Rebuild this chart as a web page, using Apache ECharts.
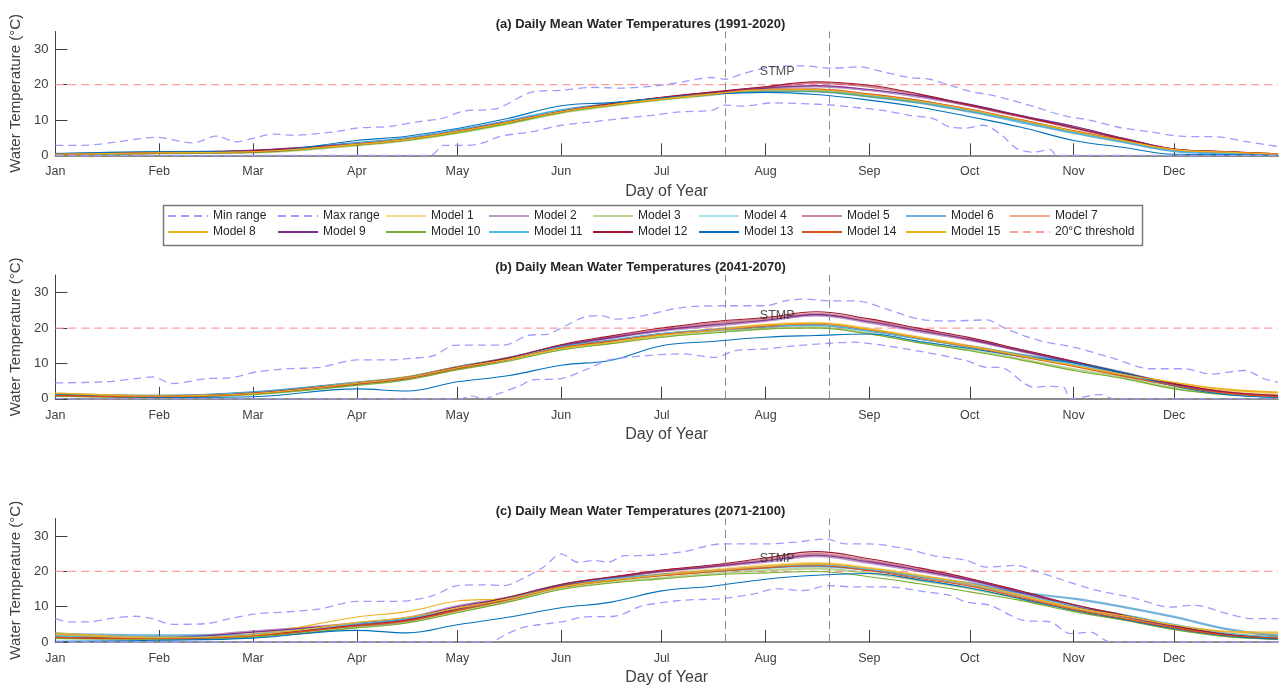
<!DOCTYPE html>
<html>
<head>
<meta charset="utf-8">
<title>Daily Mean Water Temperatures</title>
<script src="https://cdn.jsdelivr.net/npm/echarts@6/dist/echarts.min.js"></script>
<style>
  html, body { margin: 0; padding: 0; background: #fff; }
  #chart { width: 1281px; height: 687px; }
</style>
</head>
<body>
<div id="chart"></div>
<script>
// month ticks (day of year)
const monthStarts = [1, 32, 60, 91, 121, 152, 182, 213, 244, 274, 305, 335];
const monthNames = ['Jan', 'Feb', 'Mar', 'Apr', 'May', 'Jun', 'Jul', 'Aug', 'Sep', 'Oct', 'Nov', 'Dec'];
const tempTicks = [0, 10, 20, 30];
const threshold = 20;
const stmpStart = 201, stmpEnd = 232;   // STMP window
const stmpLabel = [216.5, 23.6];

const panelTitles = [
  '(a) Daily Mean Water Temperatures (1991-2020)',
  '(b) Daily Mean Water Temperatures (2041-2070)',
  '(c) Daily Mean Water Temperatures (2071-2100)'
];

// days where the model curves were read
const modelDays = [1, 32, 60, 91, 106, 121, 136, 152, 167, 182, 197, 213, 228, 244, 259, 274, 289, 305, 320, 335, 350, 366];

// ---- (a) 1991-2020 ----
const maxDaysA = [1, 9, 21, 31, 42, 49, 55, 60, 66, 72, 84, 91, 101, 110, 116, 123, 133, 143, 152, 161, 170, 179, 188, 197, 201, 206, 215, 224, 233, 241, 248, 256, 262, 268, 274, 280, 286, 293, 302, 310, 318, 328, 337, 348, 357, 366];
const maxA = [2.8, 2.8, 4.0, 5.1, 3.5, 5.4, 3.8, 4.8, 6.0, 5.7, 6.6, 7.7, 8.2, 9.6, 10.3, 12.5, 13.3, 17.8, 18.4, 19.2, 19.0, 19.5, 20.7, 22.0, 21.5, 23.0, 25.0, 25.3, 24.6, 25.0, 23.6, 22.0, 21.5, 19.8, 18.1, 17.1, 15.7, 13.8, 11.2, 9.9, 8.0, 6.6, 5.4, 5.2, 3.8, 2.5];
const minDaysA = [1, 113, 117, 123, 128, 134, 143, 152, 161, 170, 179, 188, 197, 201, 206, 215, 224, 233, 238, 248, 256, 263, 268, 273, 278, 283, 288, 293, 298, 300, 366];
const minA = [0, 0, 2.8, 2.8, 3.3, 5.4, 6.6, 8.5, 9.4, 10.4, 11.3, 12.3, 12.7, 14.2, 13.9, 14.8, 14.6, 14.2, 13.7, 12.7, 11.3, 10.4, 8.0, 7.7, 8.5, 6.1, 1.9, 0.9, 1.6, 0, 0];
const modelsA = [
  [0.2, 0.6, 0.9, 3.0, 4.4, 6.5, 9.1, 12.2, 14.2, 15.9, 17.3, 18.4, 18.3, 16.9, 15.0, 12.6, 9.7, 6.5, 3.9, 1.5, 0.9, 0.3],
  [0.3, 0.8, 1.3, 3.3, 4.6, 6.8, 9.4, 12.4, 14.4, 16.2, 17.6, 18.9, 19.5, 18.4, 16.5, 14.1, 11.1, 8.0, 4.6, 1.6, 0.9, 0.3],
  [0.2, 0.6, 0.8, 2.8, 4.2, 6.3, 8.9, 12.0, 14.0, 15.7, 17.1, 18.3, 18.2, 16.8, 15.1, 12.7, 9.9, 6.8, 4.2, 1.5, 0.8, 0.3],
  [0.3, 0.8, 1.1, 3.4, 4.8, 7.0, 9.6, 12.6, 14.5, 16.1, 17.4, 18.5, 18.5, 17.1, 15.3, 12.8, 9.8, 6.6, 3.9, 1.3, 0.6, 0.2],
  [0.3, 0.7, 1.2, 3.1, 4.5, 6.7, 9.3, 12.3, 14.4, 16.2, 17.7, 19.2, 20.5, 19.4, 17.0, 14.0, 11.0, 7.7, 4.5, 1.6, 0.9, 0.3],
  [0.4, 0.9, 1.1, 3.5, 4.9, 7.1, 9.7, 12.8, 14.6, 16.0, 17.3, 18.3, 18.1, 16.6, 14.8, 12.3, 9.4, 6.3, 3.7, 1.2, 0.6, 0.2],
  [0.3, 0.7, 1.0, 3.2, 4.6, 6.8, 9.4, 12.4, 14.4, 16.0, 17.4, 18.6, 18.6, 17.2, 15.4, 12.9, 10.0, 6.8, 4.1, 1.5, 0.9, 0.3],
  [0.2, 0.6, 0.9, 3.1, 4.5, 6.6, 9.2, 12.2, 14.2, 15.8, 17.2, 18.3, 18.3, 17.0, 15.2, 12.8, 9.9, 6.7, 4.1, 1.6, 1.0, 0.4],
  [0.3, 0.8, 1.4, 3.4, 4.7, 6.9, 9.5, 12.5, 14.5, 16.3, 17.7, 19.0, 19.7, 18.6, 16.8, 14.4, 11.3, 8.2, 4.8, 1.8, 1.0, 0.3],
  [0.2, 0.5, 0.8, 2.9, 4.3, 6.4, 9.0, 12.1, 14.1, 15.8, 17.2, 18.3, 18.1, 16.7, 15.0, 12.6, 9.8, 6.7, 4.2, 1.6, 0.9, 0.3],
  [0.3, 0.8, 1.1, 3.4, 4.8, 7.0, 9.6, 12.7, 14.6, 16.1, 17.4, 18.4, 18.3, 16.9, 15.1, 12.6, 9.6, 6.4, 3.8, 1.2, 0.5, 0.2],
  [0.3, 0.8, 1.3, 3.2, 4.6, 6.8, 9.4, 12.4, 14.6, 16.4, 17.9, 19.4, 20.8, 19.8, 17.3, 14.2, 11.1, 7.8, 4.6, 1.7, 1.0, 0.3],
  [0.4, 1.0, 1.0, 4.2, 5.4, 7.6, 10.4, 14.0, 14.9, 16.2, 17.3, 17.8, 17.2, 15.6, 13.6, 10.9, 8.0, 4.2, 2.2, 0.3, 0.2, 0.1],
  [0.3, 0.7, 1.0, 3.2, 4.6, 6.8, 9.4, 12.4, 14.3, 15.9, 17.4, 18.6, 18.7, 17.3, 15.5, 13.0, 10.1, 6.9, 4.2, 1.7, 1.0, 0.4],
  [0.3, 0.7, 1.0, 3.1, 4.5, 6.7, 9.3, 12.3, 14.3, 15.9, 17.3, 18.5, 18.5, 17.1, 15.3, 12.9, 10.0, 6.8, 4.1, 1.6, 0.9, 0.3]
];

// ---- (b) 2041-2070 ----
const maxDaysB = [1, 16, 25, 30, 36, 46, 53, 61, 70, 80, 91, 101, 107, 114, 120, 129, 135, 142, 148, 152, 159, 164, 168, 174, 188, 200, 213, 219, 224, 232, 240, 249, 259, 268, 279, 285, 295, 305, 316, 328, 338, 346, 356, 362, 366];
const maxB = [4.5, 4.8, 5.7, 6.2, 4.3, 5.7, 5.9, 7.6, 8.5, 8.9, 11.0, 11.0, 11.4, 12.2, 15.1, 15.2, 15.2, 17.9, 18.3, 20.0, 23.1, 23.5, 22.5, 23.0, 25.8, 26.3, 26.3, 27.7, 28.2, 27.7, 27.7, 25.4, 22.5, 22.0, 22.3, 19.7, 16.4, 14.6, 11.7, 8.5, 8.5, 7.0, 8.0, 5.6, 4.7];
const minDaysB = [1, 122, 125, 129, 132, 140, 143, 152, 160, 166, 175, 188, 198, 204, 213, 222, 232, 239, 249, 261, 273, 279, 283, 293, 297, 302, 304, 313, 317, 366];
const minB = [0, 0, 0.8, 0, 1.0, 3.8, 5.3, 5.7, 8.5, 10.9, 12.0, 12.7, 11.7, 13.6, 14.1, 15.0, 15.7, 16.0, 15.0, 13.1, 10.8, 8.9, 8.9, 3.3, 3.5, 3.3, 0, 1.2, 0, 0];
const modelsB = [
  [1.5, 0.9, 1.7, 4.6, 6.2, 9.0, 11.4, 14.4, 16.3, 18.3, 19.6, 21.0, 21.5, 19.8, 17.4, 15.0, 12.4, 9.6, 6.9, 4.4, 2.4, 1.5],
  [1.1, 0.7, 1.7, 4.4, 6.0, 8.9, 11.5, 15.0, 17.2, 19.2, 20.6, 22.0, 23.6, 21.5, 19.0, 16.6, 13.5, 10.3, 7.1, 4.1, 1.8, 0.8],
  [0.8, 0.5, 1.3, 3.9, 5.5, 8.3, 10.8, 14.0, 15.8, 17.6, 18.8, 19.9, 20.2, 18.5, 16.0, 13.8, 11.3, 8.4, 6.0, 3.1, 1.3, 0.6],
  [1.2, 0.8, 1.9, 4.5, 6.0, 8.8, 11.3, 14.6, 16.4, 18.3, 19.4, 20.6, 21.0, 19.3, 17.0, 14.7, 12.3, 9.8, 6.9, 3.8, 1.5, 0.6],
  [0.9, 0.6, 1.5, 4.2, 5.8, 8.6, 11.2, 14.9, 17.4, 19.6, 21.3, 22.6, 24.0, 22.1, 19.5, 16.9, 13.7, 10.4, 7.2, 4.2, 1.9, 0.8],
  [1.3, 0.8, 1.8, 4.6, 6.1, 9.0, 11.5, 14.8, 16.5, 18.3, 19.4, 20.4, 20.8, 19.2, 17.0, 14.8, 12.5, 10.3, 7.4, 4.0, 1.6, 0.6],
  [1.0, 0.7, 1.6, 4.4, 6.0, 8.8, 11.3, 14.5, 16.3, 18.2, 19.4, 20.6, 21.1, 19.4, 17.1, 14.7, 12.1, 9.3, 6.5, 3.8, 1.7, 0.7],
  [1.6, 0.9, 1.6, 4.5, 6.1, 8.9, 11.2, 14.3, 16.1, 18.0, 19.4, 20.9, 21.4, 19.7, 17.3, 14.9, 12.3, 9.5, 6.9, 4.7, 2.8, 1.9],
  [1.0, 0.7, 1.6, 4.3, 5.9, 8.8, 11.4, 15.1, 17.3, 19.4, 20.9, 22.2, 23.8, 21.8, 19.3, 16.8, 13.7, 10.4, 7.2, 4.1, 1.7, 0.7],
  [0.7, 0.5, 1.2, 3.8, 5.4, 8.2, 10.6, 13.8, 15.6, 17.4, 18.6, 19.7, 20.0, 18.3, 15.8, 13.6, 11.0, 8.0, 5.7, 2.8, 1.2, 0.5],
  [1.2, 0.8, 1.8, 4.5, 6.0, 8.9, 11.4, 14.7, 16.5, 18.4, 19.5, 20.6, 20.9, 19.2, 16.9, 14.6, 12.2, 9.7, 6.8, 3.7, 1.4, 0.5],
  [1.0, 0.7, 1.6, 4.4, 6.0, 8.9, 11.5, 15.3, 17.8, 20.0, 21.8, 23.0, 24.6, 22.6, 19.9, 17.3, 14.0, 10.6, 7.3, 4.3, 2.0, 0.9],
  [1.4, 0.4, 0.6, 2.8, 2.2, 4.8, 6.5, 9.5, 10.9, 15.0, 16.2, 17.4, 17.9, 18.3, 16.2, 14.2, 12.0, 10.2, 7.2, 3.6, 1.2, 0.4],
  [0.9, 0.6, 1.5, 4.2, 5.8, 8.6, 11.1, 14.4, 16.3, 18.2, 19.4, 20.6, 21.2, 19.5, 17.1, 14.7, 12.0, 9.2, 6.4, 3.7, 1.6, 0.6],
  [1.5, 0.8, 1.5, 4.4, 6.0, 8.8, 11.1, 14.2, 16.0, 18.0, 19.3, 20.8, 21.3, 19.6, 17.2, 14.8, 12.2, 9.4, 6.8, 4.6, 2.6, 1.8]
];

// ---- (c) 2071-2100 ----
const maxDaysC = [1, 5, 11, 17, 25, 30, 36, 46, 53, 61, 70, 80, 91, 101, 107, 114, 121, 129, 135, 141, 147, 152, 157, 162, 166, 171, 176, 188, 200, 213, 222, 231, 237, 244, 255, 263, 273, 279, 288, 293, 302, 312, 322, 334, 341, 351, 358, 366];
const maxC = [6.6, 5.7, 5.7, 6.6, 7.3, 6.6, 5.0, 5.2, 6.6, 8.0, 8.5, 9.4, 11.5, 11.5, 11.8, 13.2, 16.0, 16.2, 16.0, 18.2, 21.4, 25.0, 22.6, 23.1, 22.6, 24.5, 24.5, 25.5, 27.8, 27.8, 28.3, 29.2, 27.8, 27.8, 26.4, 24.5, 23.1, 21.2, 21.7, 20.3, 17.5, 14.6, 12.7, 9.9, 10.4, 8.0, 6.6, 6.6];
const minDaysC = [1, 131, 135, 141, 152, 159, 168, 176, 188, 200, 210, 216, 224, 232, 239, 249, 261, 268, 273, 280, 290, 298, 304, 310, 316, 366];
const minC = [0, 0, 1.9, 4.2, 5.7, 7.1, 7.3, 10.2, 11.8, 12.3, 13.7, 15.1, 14.6, 16.0, 15.6, 15.6, 14.2, 13.2, 11.3, 10.4, 6.1, 5.7, 2.4, 2.8, 0, 0];
const modelsC = [
  [2.0, 1.3, 2.2, 5.4, 6.9, 9.7, 12.4, 15.9, 17.9, 19.3, 20.5, 21.7, 22.4, 21.0, 18.9, 16.5, 13.3, 9.8, 7.2, 4.6, 2.6, 1.8],
  [1.6, 1.3, 3.0, 5.3, 6.8, 10.2, 12.6, 16.2, 18.3, 20.0, 21.3, 22.7, 24.3, 22.4, 20.0, 17.4, 14.0, 10.2, 7.3, 4.4, 2.1, 1.1],
  [1.1, 0.8, 1.5, 4.2, 5.6, 8.5, 11.5, 15.1, 17.0, 18.2, 19.3, 20.3, 20.8, 19.5, 17.4, 15.2, 12.2, 8.9, 6.4, 3.7, 1.7, 0.8],
  [1.5, 1.2, 2.1, 5.0, 6.5, 9.3, 12.2, 16.0, 17.7, 19.0, 20.0, 21.1, 21.7, 20.4, 18.3, 16.1, 13.0, 9.7, 7.1, 4.4, 2.3, 1.2],
  [1.3, 1.0, 1.9, 4.6, 6.0, 9.2, 12.3, 16.1, 18.2, 20.2, 21.5, 23.3, 25.0, 23.1, 20.6, 17.7, 14.3, 10.4, 7.4, 4.5, 2.1, 1.0],
  [2.4, 1.9, 2.0, 5.1, 6.6, 9.4, 12.3, 15.9, 17.8, 19.0, 20.1, 21.1, 21.5, 20.4, 18.6, 16.6, 14.0, 12.3, 9.9, 7.1, 3.8, 1.8],
  [1.4, 1.1, 1.9, 4.8, 6.2, 9.1, 12.1, 15.7, 17.6, 19.0, 20.1, 21.3, 21.9, 20.6, 18.5, 16.2, 13.0, 9.5, 6.9, 4.2, 2.2, 1.3],
  [2.6, 1.4, 2.3, 7.1, 8.6, 11.6, 12.4, 15.5, 17.4, 18.9, 20.1, 21.4, 22.1, 20.8, 18.7, 16.4, 13.2, 9.7, 7.3, 4.9, 3.1, 2.8],
  [1.5, 1.2, 2.8, 5.2, 6.7, 10.0, 12.5, 16.2, 18.2, 20.0, 21.4, 23.0, 24.6, 22.7, 20.3, 17.6, 14.1, 10.3, 7.4, 4.5, 2.2, 1.1],
  [1.0, 0.8, 1.4, 4.0, 5.4, 8.3, 11.3, 14.9, 16.7, 17.9, 19.0, 19.6, 20.0, 18.5, 16.5, 14.2, 11.8, 8.6, 6.2, 3.5, 1.6, 0.8],
  [1.6, 1.3, 2.2, 5.2, 6.7, 9.5, 12.4, 16.3, 17.9, 19.1, 20.1, 21.2, 21.8, 20.6, 18.6, 16.4, 13.4, 10.3, 7.8, 5.0, 2.6, 1.3],
  [1.3, 1.0, 1.9, 4.7, 6.2, 9.4, 12.6, 16.3, 18.4, 20.4, 21.8, 23.8, 25.6, 23.6, 21.0, 18.0, 14.5, 10.6, 7.6, 4.6, 2.2, 1.0],
  [0.2, 0.5, 1.1, 3.3, 2.6, 4.9, 7.0, 9.7, 11.3, 14.5, 15.8, 17.8, 18.9, 19.4, 17.6, 15.3, 12.3, 9.0, 6.4, 3.8, 1.8, 0.8],
  [1.3, 1.0, 1.8, 4.6, 6.0, 8.9, 11.9, 15.5, 17.4, 18.8, 19.9, 21.0, 21.6, 20.2, 18.0, 15.8, 12.6, 9.2, 6.6, 4.0, 2.0, 1.1],
  [2.2, 1.2, 2.0, 5.5, 7.0, 9.6, 12.2, 15.6, 17.5, 19.0, 20.2, 21.4, 22.2, 20.9, 18.8, 16.5, 13.3, 9.8, 7.4, 4.8, 2.9, 2.5]
];

// MATLAB-like colours: models 1-7 are faded, 8-15 full
const modelColors = [
  'rgba(237,177,32,0.5)', 'rgba(126,47,142,0.5)', 'rgba(119,172,48,0.5)', 'rgba(77,190,238,0.5)',
  'rgba(162,20,47,0.5)', 'rgba(0,114,189,0.55)', 'rgba(217,83,25,0.5)',
  '#EDB120', '#7E2F8E', '#77AC30', '#4DBEEE', '#A2142F', '#0072BD', '#D95319', '#EDB120'
];
const rangeColor = '#9c9cff';
const threshColor = '#ff9c9c';
const FONT = 'Liberation Sans, Arial, sans-serif';

const panels = [
  { maxDays: maxDaysA, max: maxA, minDays: minDaysA, min: minA, models: modelsA },
  { maxDays: maxDaysB, max: maxB, minDays: minDaysB, min: minB, models: modelsB },
  { maxDays: maxDaysC, max: maxC, minDays: minDaysC, min: minC, models: modelsC }
];
const gridTops = [31.5, 275, 518.5];
const gridH = 123.8;

function pairs(xs, ys) {
  return xs.map(function (x, i) { return [x, ys[i]]; });
}

const grids = [], xAxes = [], yAxes = [], titles = [], series = [];

panels.forEach(function (p, i) {
  grids.push({ left: 53, width: 1225, top: gridTops[i], height: gridH });
  titles.push({
    text: panelTitles[i], left: 'center', top: gridTops[i] - 19,
    textStyle: { fontSize: 13, fontWeight: 'bold', color: '#262626', fontFamily: FONT }
  });
  xAxes.push({
    gridIndex: i, type: 'value', min: 1, max: 366,
    name: 'Day of Year', nameLocation: 'middle', nameGap: 28,
    nameTextStyle: { fontSize: 16, color: '#404040', fontFamily: FONT },
    axisLine: { lineStyle: { color: '#8c8c8c', width: 2 } },
    axisTick: { inside: true, length: 12, customValues: monthStarts, lineStyle: { color: '#404040' } },
    axisLabel: {
      customValues: monthStarts, margin: 10, fontSize: 12.5, color: '#404040', fontFamily: FONT,
      formatter: function (v) { return monthNames[monthStarts.indexOf(v)]; }
    },
    splitLine: { show: false }
  });
  yAxes.push({
    gridIndex: i, type: 'value', min: 0, max: 35,
    name: 'Water Temperature (°C)', nameLocation: 'middle', nameGap: 27,
    nameTextStyle: { fontSize: 15, color: '#404040', fontFamily: FONT },
    axisLine: { show: true, lineStyle: { color: '#404040', width: 1 } },
    axisTick: { show: true, inside: true, length: 12, customValues: tempTicks, lineStyle: { color: '#404040' } },
    axisLabel: { customValues: tempTicks, margin: 7, fontSize: 13, color: '#404040', fontFamily: FONT },
    splitLine: { show: false }
  });

  const common = { xAxisIndex: i, yAxisIndex: i, type: 'line', symbol: 'none', silent: true };
  series.push(Object.assign({}, common, {
    name: 'Min range', data: pairs(p.minDays, p.min), smooth: 0.3, z: 3,
    lineStyle: { color: rangeColor, width: 1.3, type: [8, 5] }, itemStyle: { color: rangeColor }
  }));
  series.push(Object.assign({}, common, {
    name: 'Max range', data: pairs(p.maxDays, p.max), smooth: 0.3, z: 3,
    lineStyle: { color: rangeColor, width: 1.3, type: [8, 5] }, itemStyle: { color: rangeColor }
  }));
  p.models.forEach(function (vals, m) {
    series.push(Object.assign({}, common, {
      name: 'Model ' + (m + 1), data: pairs(modelDays, vals), smooth: 0.4, z: 2,
      lineStyle: { color: modelColors[m], width: m < 7 ? 2.2 : 1.1 },
      itemStyle: { color: modelColors[m] }
    }));
  });
  series.push(Object.assign({}, common, {
    name: '20°C threshold', data: [[1, threshold], [366, threshold]], z: 1,
    lineStyle: { color: threshColor, width: 1.2, type: [8, 5] }, itemStyle: { color: threshColor },
    markLine: {
      silent: true, symbol: 'none', label: { show: false },
      lineStyle: { color: '#8c8c8c', width: 1, type: [8, 5] },
      data: [{ xAxis: stmpStart }, { xAxis: stmpEnd }]
    }
  }));
  series.push({
    type: 'scatter', name: 'STMP', xAxisIndex: i, yAxisIndex: i, silent: true, z: 5,
    symbolSize: 0, data: [stmpLabel],
    label: { show: true, position: 'inside', formatter: 'STMP', fontSize: 12.5, color: '#262626', fontFamily: FONT }
  });
});

// legend laid out as a 9-column grid like the original
const legendNames = ['Min range', 'Max range'];
for (let k = 1; k <= 15; k++) legendNames.push('Model ' + k);
legendNames.push('20°C threshold');
const legendCols = [167, 277, 385, 488, 592, 698, 801, 905, 1009];
const legends = legendNames.map(function (n, k) {
  return {
    data: [n], left: legendCols[k % 9], top: k < 9 ? 210 : 226, padding: 0,
    itemWidth: 40, itemHeight: 12, selectedMode: false,
    itemStyle: { opacity: 0 },
    textStyle: { fontSize: 12, color: '#262626', fontFamily: FONT }
  };
});

const chart = echarts.init(document.getElementById('chart'));
chart.setOption({
  animation: false,
  backgroundColor: '#fff',
  title: titles,
  grid: grids,
  xAxis: xAxes,
  yAxis: yAxes,
  legend: legends,
  graphic: [{
    type: 'rect', left: 161, top: 203, shape: { width: 979, height: 40 },
    style: { fill: 'none', stroke: '#7a7a7a', lineWidth: 1.5 }, silent: true
  }],
  series: series
});
</script>
</body>
</html>
